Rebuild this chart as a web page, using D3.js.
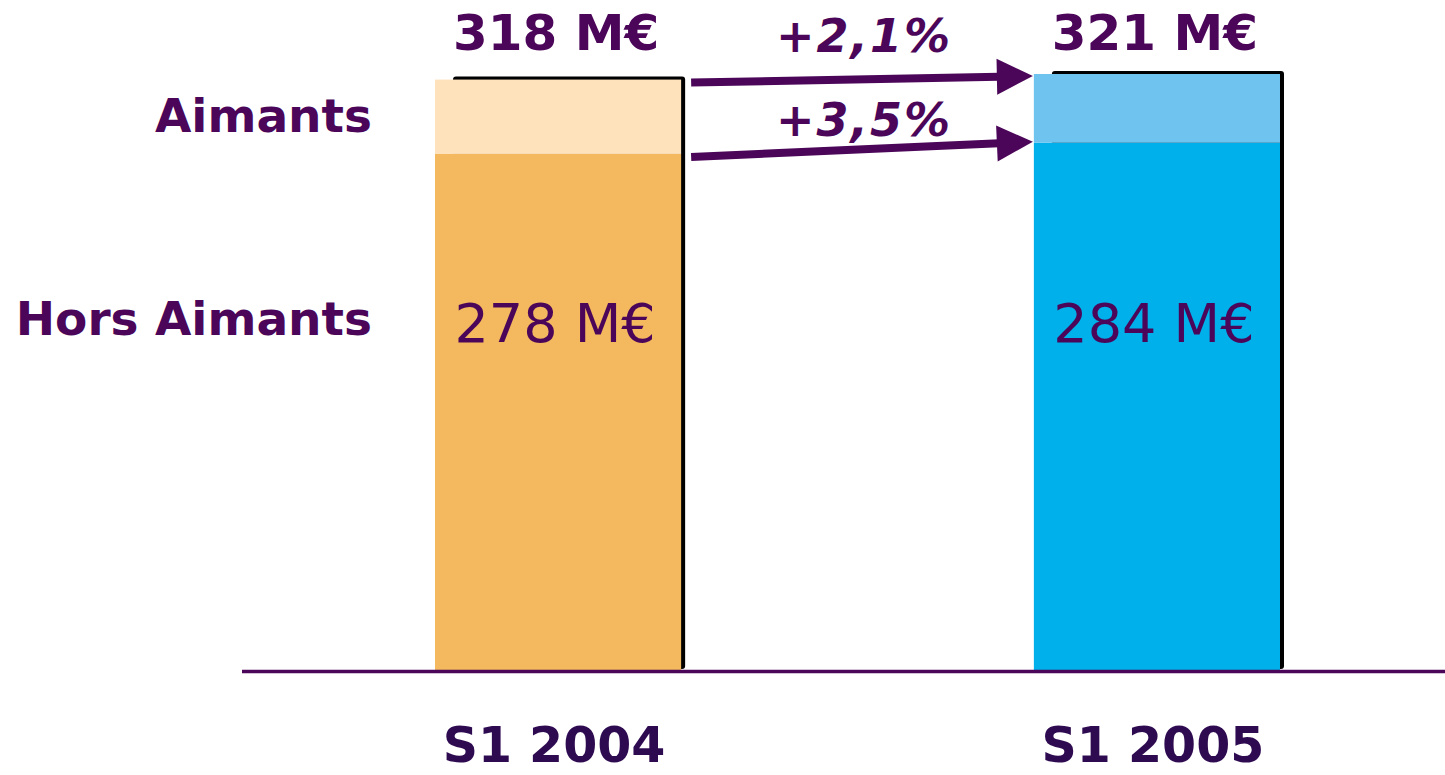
<!DOCTYPE html>
<html>
<head>
<meta charset="utf-8">
<script src="https://cdn.jsdelivr.net/npm/d3@7"></script>
<style>
  body { margin: 0; background: #fff; }
  text { font-family: "DejaVu Sans", Verdana, sans-serif; }
</style>
</head>
<body>
<svg width="1445" height="775"></svg>
<script>
const periods = ['S1 2004', 'S1 2005'];
const horsAimants = [278, 284];
const aimants = [40, 37];
const totals = [318, 321];
const growth = ['+2,1%', '+3,5%'];
const segmentNames = ['Aimants', 'Hors Aimants'];

const purple = '#4b0659';
const colors = {
    'S1 2004': { base: '#f4b95e', top: '#fde2bb' },
    'S1 2005': { base: '#00b0ea', top: '#6fc3ef' }
};

const svg = d3.select('svg');

const xScale = d3.scaleBand()
    .domain(periods)
    .range([435, 1280])
    .paddingInner(0.589)
    .paddingOuter(0);

const yScale = d3.scaleLinear()
    .domain([0, 321])
    .range([671, 74]);

const bw = xScale.bandwidth();

const data = periods.map((p, i) => ({
    period: p,
    hors: horsAimants[i],
    aim: aimants[i],
    total: totals[i]
}));

const g = svg.append('g');

// shadow behind each bar
g.selectAll('.shadow')
    .data(data)
    .enter()
    .append('rect')
    .attr('x', d => xScale(d.period) + 18)
    .attr('y', d => yScale(d.total) - 3)
    .attr('width', bw - 14)
    .attr('height', d => yScale(0) - yScale(d.total) + 1)
    .attr('rx', 3)
    .attr('fill', '#000');

// hors aimants
g.selectAll('.hors')
    .data(data)
    .enter()
    .append('rect')
    .attr('x', d => xScale(d.period))
    .attr('y', d => yScale(d.hors))
    .attr('width', bw)
    .attr('height', d => yScale(0) - yScale(d.hors))
    .attr('fill', d => colors[d.period].base);

// aimants
g.selectAll('.aim')
    .data(data)
    .enter()
    .append('rect')
    .attr('x', d => xScale(d.period))
    .attr('y', d => yScale(d.total))
    .attr('width', bw)
    .attr('height', d => yScale(d.hors) - yScale(d.total))
    .attr('fill', d => colors[d.period].top);

// baseline
svg.append('line')
    .attr('x1', 242).attr('x2', 1445)
    .attr('y1', yScale(0) + 0.5).attr('y2', yScale(0) + 0.5)
    .attr('stroke', purple)
    .attr('stroke-width', 3.5);

// totals on top
g.selectAll('.total')
    .data(data)
    .enter()
    .append('text')
    .attr('x', d => xScale(d.period) + bw / 2 - 2)
    .attr('y', 50)
    .attr('text-anchor', 'middle')
    .attr('font-size', 50)
    .attr('font-weight', 'bold')
    .attr('fill', purple)
    .text(d => d.total + ' M€');

// values inside bars
g.selectAll('.inner')
    .data(data)
    .enter()
    .append('text')
    .attr('x', d => xScale(d.period) + bw / 2 - 3)
    .attr('y', 342)
    .attr('text-anchor', 'middle')
    .attr('font-size', 54)
    .attr('fill', purple)
    .text(d => d.hors + ' M€');

// category labels
g.selectAll('.cat')
    .data(periods)
    .enter()
    .append('text')
    .attr('x', d => xScale(d) + bw / 2 - 4)
    .attr('y', 762)
    .attr('text-anchor', 'middle')
    .attr('font-size', 49)
    .attr('font-weight', 'bold')
    .attr('fill', '#2e0a50')
    .text(d => d);

// segment labels on the left
svg.selectAll('.seg')
    .data(segmentNames)
    .enter()
    .append('text')
    .attr('x', 372)
    .attr('y', (d, i) => i === 0 ? 132 : 335)
    .attr('text-anchor', 'end')
    .attr('font-size', 47)
    .attr('font-weight', 'bold')
    .attr('fill', purple)
    .text(d => d);

// growth arrows
const x0 = xScale(periods[0]) + bw + 10;
const x1 = xScale(periods[1]) - 1;
const arrows = [
    { y0: yScale(totals[0]) + 3, y1: yScale(totals[1]) + 2, label: growth[0], ty: 52 },
    { y0: yScale(horsAimants[0]) + 3, y1: yScale(horsAimants[1]) - 1, label: growth[1], ty: 136 }
];

const headLen = 36, headHalf = 18;
arrows.forEach(a => {
    const ang = Math.atan2(a.y1 - a.y0, x1 - x0);
    const cos = Math.cos(ang), sin = Math.sin(ang);
    const bx = x1 - headLen * cos, by = a.y1 - headLen * sin;
    svg.append('line')
        .attr('x1', x0).attr('y1', a.y0)
        .attr('x2', bx + 2 * cos).attr('y2', by + 2 * sin)
        .attr('stroke', purple)
        .attr('stroke-width', 8);
    svg.append('polygon')
        .attr('points', [
            [x1, a.y1],
            [bx - headHalf * sin, by + headHalf * cos],
            [bx + headHalf * sin, by - headHalf * cos]
        ].map(p => p.join(',')).join(' '))
        .attr('fill', purple);
    svg.append('text')
        .attr('x', 864)
        .attr('y', a.ty)
        .attr('text-anchor', 'middle')
        .attr('font-size', 46)
        .attr('font-weight', 'bold')
        .attr('font-style', 'italic')
        .attr('letter-spacing', 2)
        .attr('fill', purple)
        .text(a.label);
});
</script>
</body>
</html>
